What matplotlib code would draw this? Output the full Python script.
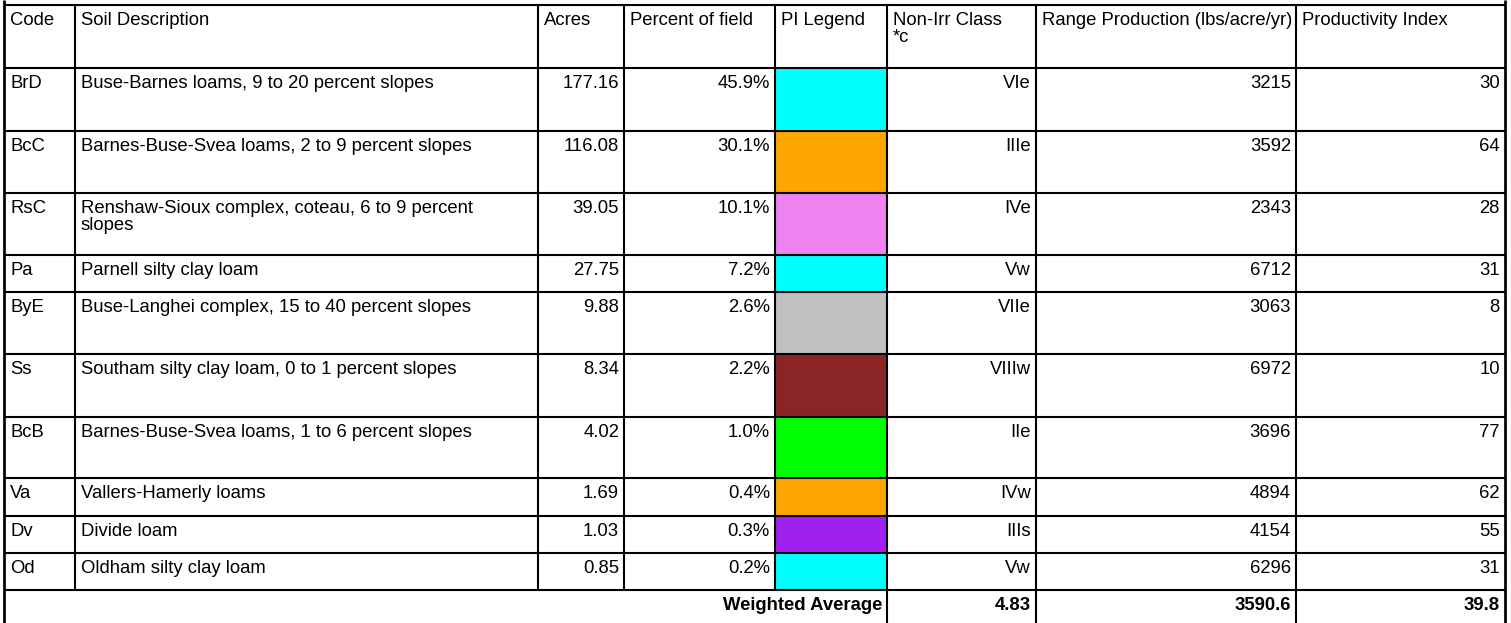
import matplotlib
matplotlib.use("Agg")
import matplotlib.pyplot as plt
from matplotlib.patches import Rectangle

plt.rcParams['font.family'] = ['Liberation Sans', 'DejaVu Sans']

# ---- table data ----
headers = ["Code", "Soil Description", "Acres", "Percent of field", "PI Legend",
           "Non-Irr Class\n*c", "Range Production (lbs/acre/yr)", "Productivity Index"]
codes = ["BrD", "BcC", "RsC", "Pa", "ByE", "Ss", "BcB", "Va", "Dv", "Od"]
descriptions = [
    "Buse-Barnes loams, 9 to 20 percent slopes",
    "Barnes-Buse-Svea loams, 2 to 9 percent slopes",
    "Renshaw-Sioux complex, coteau, 6 to 9 percent\nslopes",
    "Parnell silty clay loam",
    "Buse-Langhei complex, 15 to 40 percent slopes",
    "Southam silty clay loam, 0 to 1 percent slopes",
    "Barnes-Buse-Svea loams, 1 to 6 percent slopes",
    "Vallers-Hamerly loams",
    "Divide loam",
    "Oldham silty clay loam",
]
acres = [177.16, 116.08, 39.05, 27.75, 9.88, 8.34, 4.02, 1.69, 1.03, 0.85]
percent = [45.9, 30.1, 10.1, 7.2, 2.6, 2.2, 1.0, 0.4, 0.3, 0.2]
pi_colors = ["#00ffff", "#ffa500", "#ee82ee", "#00ffff", "#c0c0c0",
             "#8b2525", "#00ff00", "#ffa500", "#a020f0", "#00ffff"]
classes = ["VIe", "IIIe", "IVe", "Vw", "VIIe", "VIIIw", "IIe", "IVw", "IIIs", "Vw"]
range_prod = [3215, 3592, 2343, 6712, 3063, 6972, 3696, 4894, 4154, 6296]
prod_index = [30, 64, 28, 31, 8, 10, 77, 62, 55, 31]
avg_label = "Weighted Average"
avg_class = 4.83
avg_range = 3590.6
avg_index = 39.8

# ---- layout (pixels) ----
W, H = 1511, 623
col_x = [4, 75, 538, 624, 775, 887, 1036, 1296, 1505]
row_y = [5, 68, 131, 193, 255, 292, 354, 417, 478, 516, 553, 590, 628]
pad_x = 6
pad_y = 7
fs = 13.3
lw = 1.5

fig = plt.figure(figsize=(W / 100, H / 100), dpi=100)
ax = fig.add_axes((0, 0, 1, 1))
ax.set_xlim(0, W)
ax.set_ylim(H, 0)
ax.axis("off")

align = ["left", "left", "right", "right", "left", "right", "right", "right"]


def put(text, c, r, ha, bold=False):
    x = col_x[c] + pad_x if ha == "left" else col_x[c + 1] - pad_x + 1
    ax.text(x, row_y[r] + pad_y, text, ha=ha, va="top", fontsize=fs,
            fontweight="bold" if bold else "normal", linespacing=1.0)


# header
for c, h in enumerate(headers):
    put(h, c, 0, "left")

# body
for i in range(len(codes)):
    r = i + 1
    ax.add_patch(Rectangle((col_x[4], row_y[r]), col_x[5] - col_x[4],
                           row_y[r + 1] - row_y[r], facecolor=pi_colors[i],
                           edgecolor="none", zorder=0))
    vals = [codes[i], descriptions[i], f"{acres[i]:.2f}", f"{percent[i]:.1f}%", "",
            classes[i], str(range_prod[i]), str(prod_index[i])]
    for c, v in enumerate(vals):
        if v:
            put(v, c, r, align[c])

# weighted average row
rw = len(codes) + 1
ax.text(col_x[5] - pad_x + 1, row_y[rw] + pad_y, avg_label, ha="right", va="top",
        fontsize=fs, fontweight="bold")
put(f"{avg_class:.2f}", 5, rw, "right", bold=True)
put(f"{avg_range:.1f}", 6, rw, "right", bold=True)
put(f"{avg_index:.1f}", 7, rw, "right", bold=True)

# grid lines
for y in row_y[:-1]:
    ax.plot([col_x[0], col_x[-1]], [y, y], color="black", lw=lw, solid_capstyle="butt")
for c, x in enumerate(col_x):
    if c in (0, len(col_x) - 1):
        ax.plot([x, x], [0, H], color="black", lw=lw * 1.3, solid_capstyle="butt")
    elif c >= 5:
        ax.plot([x, x], [row_y[0], H], color="black", lw=lw, solid_capstyle="butt")
    else:
        ax.plot([x, x], [row_y[0], row_y[-2]], color="black", lw=lw, solid_capstyle="butt")

fig.savefig("out.png", dpi=100)
